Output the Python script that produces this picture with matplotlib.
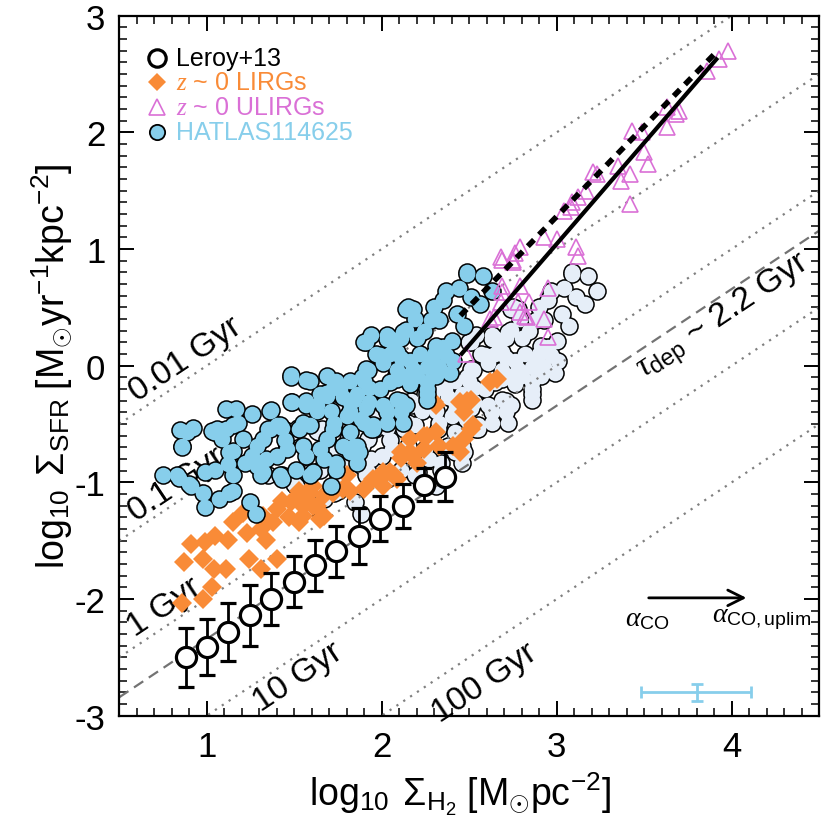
import matplotlib.pyplot as plt
import numpy as np

plt.rcParams['font.family'] = ['Liberation Sans', 'DejaVu Sans']
plt.rcParams['mathtext.fontset'] = 'custom'
plt.rcParams['mathtext.rm'] = 'Liberation Sans'
plt.rcParams['mathtext.sf'] = 'Liberation Sans'
plt.rcParams['mathtext.it'] = 'Liberation Serif:italic'
plt.rcParams['axes.unicode_minus'] = False

# Leroy+13 binned relation
leroy_x = [0.88, 1.00, 1.12, 1.25, 1.37, 1.50, 1.62, 1.74, 1.87, 1.99, 2.12, 2.24, 2.36]
leroy_y = [-2.50, -2.41, -2.28, -2.14, -2.00, -1.85, -1.71, -1.59, -1.46, -1.31, -1.20, -1.02, -0.95]
leroy_err = [0.25, 0.24, 0.25, 0.26, 0.22, 0.22, 0.22, 0.22, 0.24, 0.19, 0.19, 0.14, 0.21]

# z~0 LIRGs (x, y)
lirgs = np.array([
    [0.91, -1.53], [0.87, -1.68], [0.99, -1.51], [0.98, -1.66], [1.05, -1.46], [1.12, -1.49],
    [1.04, -1.74], [1.11, -1.74], [1.03, -1.90], [0.98, -2.00], [0.86, -2.03], [1.24, -1.66],
    [1.31, -1.74], [1.40, -1.66], [1.15, -1.34], [1.23, -1.43], [1.21, -1.26], [1.31, -1.40],
    [1.34, -1.49], [1.32, -1.29], [1.38, -1.34], [1.43, -1.16], [1.40, -1.23], [1.48, -1.17],
    [1.47, -1.30], [1.53, -1.34], [1.55, -1.20], [1.58, -1.10], [1.63, -1.20], [1.65, -1.31],
    [1.53, -1.07], [1.61, -1.03], [1.67, -1.11], [1.72, -1.09], [1.80, -0.94], [1.82, -1.07],
    [1.95, -0.97], [2.01, -0.91], [2.07, -0.94], [2.11, -0.79], [2.16, -0.74], [2.20, -0.83],
    [2.24, -0.71], [2.26, -0.60], [2.31, -0.57], [2.33, -0.69], [2.41, -0.69], [2.47, -0.63],
    [2.45, -0.74], [2.51, -0.54], [2.31, -0.34], [2.45, -0.31], [2.51, -0.29], [2.47, -0.40],
    [2.16, -0.63], [2.01, -1.03], [1.90, -1.06], [2.62, -0.14], [2.66, -0.11], [2.30, -0.31],
    [2.49, -0.30], [2.52, -0.51], [2.24, -0.60], [2.11, -0.74], [2.18, -0.77], [2.05, -0.91],
    [1.99, -0.97], [2.09, -0.97], [1.78, -1.06], [1.59, -1.09], [1.61, -1.20], [1.67, -1.29],
    [1.55, -1.29],
])

# z~0 ULIRGs (x, y)
ulirgs = np.array([
    [3.98, 2.70], [3.93, 2.63], [3.86, 2.53], [3.63, 2.22], [3.70, 2.18], [3.68, 2.16],
    [3.63, 2.05], [3.43, 2.01], [3.49, 2.00], [3.50, 1.83], [3.52, 1.73], [3.35, 1.71],
    [3.37, 1.58], [3.42, 1.64], [3.21, 1.66], [3.23, 1.64], [3.17, 1.50], [3.12, 1.45],
    [3.09, 1.40], [3.08, 1.36], [3.04, 1.33], [3.42, 1.39], [2.93, 1.10], [3.00, 1.09],
    [3.11, 1.02], [3.12, 0.94], [2.79, 1.02], [2.76, 0.97], [2.75, 0.91], [2.69, 0.91],
    [2.68, 0.93], [2.75, 0.89], [2.69, 0.68], [2.79, 0.68], [2.68, 0.55], [2.78, 0.55],
    [2.84, 0.55], [2.82, 0.43], [2.95, 0.67], [2.93, 0.40], [2.62, 0.40], [2.69, 0.63],
    [2.83, 0.42], [2.95, 0.25], [2.48, 0.10], [2.64, 0.42], [2.79, 0.46],
])

# HATLAS114625 pixels (x, y)
hatlas = np.array([
    [1.48, -0.08], [1.57, -0.12], [1.49, -0.31], [1.57, -0.34], [0.85, -0.55], [0.92, -0.53],
    [0.86, -0.69], [1.03, -0.56], [1.17, -0.37], [1.26, -0.41], [1.37, -0.38], [0.75, -0.94],
    [0.84, -0.96], [0.91, -1.03], [0.99, -0.91], [0.99, -1.21], [1.07, -1.14], [1.13, -1.09],
    [1.15, -0.94], [1.13, -0.74], [1.09, -0.63], [1.15, -0.51], [1.21, -0.63], [1.22, -0.83],
    [1.26, -0.77], [1.25, -1.17], [1.28, -1.27], [1.32, -0.63], [1.36, -0.54], [1.31, -0.94],
    [1.42, -0.94], [1.46, -0.71], [1.51, -0.89], [1.53, -0.54], [1.34, -0.80], [1.42, -0.51],
    [1.57, -0.77], [1.59, -0.94], [0.90, -1.01], [0.98, -1.09], [1.05, -0.89], [1.12, -0.84],
    [1.15, -1.07], [1.04, -0.57], [1.11, -0.54], [1.18, -0.49], [1.11, -0.37], [1.15, -0.73],
    [1.29, -0.69], [1.29, -0.86], [1.36, -0.39], [1.35, -0.54], [1.32, -0.91], [1.43, -0.97],
    [1.40, -0.77], [1.45, -0.64], [1.43, -0.53], [1.48, -0.31], [1.48, -0.10], [1.61, -0.91],
    [1.55, -0.69], [1.59, -0.51], [1.63, -0.34], [1.68, -0.23], [1.69, -0.63], [1.67, -0.80],
    [1.71, -1.03], [1.74, -0.89], [1.78, -0.69], [1.73, -0.49], [1.82, -0.31], [1.74, -0.13],
    [1.87, -0.74], [1.86, -0.83], [1.82, -0.57], [1.90, -0.49], [1.94, -0.54], [1.90, -0.13],
    [1.93, -0.31], [2.03, -0.40], [2.09, -0.29], [2.14, -0.34], [1.99, -0.20], [2.09, -0.11],
    [2.20, -0.09], [2.26, -0.14], [2.26, -0.29], [2.31, -0.09], [2.39, -0.06], [2.49, 0.79],
    [2.58, 0.77], [2.63, 0.64], [2.56, 0.53], [2.51, 0.59], [2.44, 0.67], [2.37, 0.64],
    [2.35, 0.56], [2.30, 0.50], [2.28, 0.39], [2.33, 0.39], [2.43, 0.44], [2.47, 0.34],
    [2.15, 0.50], [2.19, 0.40], [2.24, 0.30], [2.20, 0.24], [2.11, 0.24], [2.05, 0.24],
    [1.94, 0.26], [1.91, 0.20], [1.97, 0.10], [2.05, 0.10], [2.11, 0.07], [2.16, 0.04],
    [2.22, 0.10], [2.30, 0.10], [2.35, 0.16], [2.40, 0.21], [2.41, 0.04], [2.33, -0.01],
    [2.26, -0.01], [2.18, -0.03], [2.09, -0.04], [2.01, 0.02], [1.92, -0.04], [1.89, -0.10],
    [1.82, -0.13], [1.69, -0.09], [1.59, -0.13], [1.65, -0.24], [1.72, -0.19], [1.78, -0.27],
    [1.86, -0.24], [1.93, -0.19], [2.16, -0.16], [2.26, -0.24], [1.57, -0.30], [1.63, -0.39],
    [1.71, -0.39], [1.82, -0.39], [1.91, -0.36], [2.03, -0.39], [2.11, -0.30], [1.82, -0.74],
    [1.86, -0.69], [1.88, -0.46], [1.95, -0.51], [2.03, -0.49], [1.72, -0.54], [1.65, -0.71],
    [1.74, -0.83], [1.80, -0.43], [2.11, -0.40], [2.14, 0.49], [1.90, 0.20], [2.03, 0.26],
    [2.12, 0.29], [2.09, 0.12], [1.99, 0.09], [1.91, -0.03], [1.76, -0.20], [1.69, -0.26],
    [1.84, -0.29], [2.05, -0.14], [2.14, -0.09], [2.01, -0.34], [1.95, -0.54], [1.84, -0.69],
    [2.12, -0.49], [1.55, -0.49], [1.40, -0.51], [1.06, -0.54], [0.89, -0.57], [0.86, -0.70],
    [0.83, -0.94], [2.49, 0.80], [2.18, 0.49], [2.03, 0.23], [2.14, 0.31], [2.31, 0.17],
    [2.37, 0.09], [2.28, 0.06], [2.07, 0.14], [2.26, -0.20],
])
aco_shift = 0.6  # alpha_CO -> alpha_CO,uplim

# fits
fit_x = [2.45, 3.92]
fit_solid_y = [0.09, 2.64]
fit_dash_y = [0.43, 2.70]

t_dep = [0.01, 0.1, 1, 10, 100]
t_labels = ['0.01 Gyr', '0.1 Gyr', '1 Gyr', '10 Gyr', '100 Gyr']
t_label_pos = [(0.88, 0.06), (0.83, -1.01), (0.76, -2.06), (1.52, -2.66), (2.59, -2.71)]

SKY = '#87CEEB'
PALE = '#E6EEF8'
ORANGE = '#F98B37'
ORCHID = '#DA70D6'

fig = plt.figure(figsize=(8.3, 8.29), dpi=100)
ax = fig.add_axes([119.2 / 830, 1 - 716.7 / 829, 700 / 830, 700 / 829])
ax.set_xlim(0.5, 4.5)
ax.set_ylim(-3, 3)

xl = np.array([0.5, 4.5])
for t in t_dep:
    ax.plot(xl, xl - 3 - np.log10(t), ls=(0, (1, 2.7)), color='0.5', lw=1.6, zorder=2)
ax.plot(xl, xl - 3 - np.log10(2.2), ls=(0, (5, 3)), color='0.45', lw=1.6, zorder=2)

ang = np.degrees(np.arctan(116.7 / 175))
for lab, (tx, ty) in zip(t_labels, t_label_pos):
    ax.text(tx, ty, lab, fontsize=24, rotation=ang, ha='center', va='center',
            rotation_mode='anchor', zorder=2)
ax.text(3.95, 0.43, r'$\tau_{\rm dep}$ ~ 2.2 Gyr', fontsize=24, rotation=ang,
        ha='center', va='center', rotation_mode='anchor', zorder=2)

# pale copy with alpha_CO upper limit
ax.plot(hatlas[:, 0] + aco_shift, hatlas[:, 1], 'o', ms=13.4, color='k', mew=0, zorder=1)
ax.plot(hatlas[:, 0] + aco_shift, hatlas[:, 1], 'o', ms=11.2, color=PALE, mew=0, zorder=1.1)

ax.plot(lirgs[:, 0], lirgs[:, 1], 'D', ms=10, color=ORANGE, mew=0, zorder=3)

ax.plot(hatlas[:, 0], hatlas[:, 1], 'o', ms=13.4, color='k', mew=0, zorder=4)
ax.plot(hatlas[:, 0], hatlas[:, 1], 'o', ms=11.2, color=SKY, mew=0, zorder=4.1)

ax.plot(ulirgs[:, 0], ulirgs[:, 1], '^', ms=12, mfc='none', mec=ORCHID, mew=1.2, zorder=5)

ax.errorbar(leroy_x, leroy_y, yerr=leroy_err, fmt='o', ms=14.5, mfc='white', mec='k',
            mew=2.3, ecolor='k', elinewidth=2, capsize=6, capthick=2, zorder=6)

ax.plot(fit_x, fit_solid_y, color='k', lw=3, zorder=7, solid_capstyle='butt')
ax.plot(fit_x, fit_dash_y, color='k', lw=4, ls=(0, (1.6, 1.3)), zorder=7)

# alpha_CO arrow and typical error
ax.annotate('', xy=(4.10, -1.99), xytext=(3.51, -1.99),
            arrowprops=dict(arrowstyle='->', lw=2, color='k', mutation_scale=28))
ax.text(3.52, -2.16, r'$\alpha_{\rm CO}$', fontsize=20, ha='center', va='center')
ax.text(4.17, -2.16, r'$\alpha_{\rm CO,uplim}$', fontsize=20, ha='center', va='center')
ax.errorbar([3.80], [-2.80], xerr=[[0.32], [0.31]], yerr=0.075, fmt='none',
            ecolor=SKY, elinewidth=2, capsize=4.5, capthick=2)

# legend
leg_y = [0.939, 0.905, 0.869, 0.834]
leg_txt = ['Leroy+13', r'$z$ ~ 0 LIRGs', r'$z$ ~ 0 ULIRGs', 'HATLAS114625']
leg_col = ['k', ORANGE, ORCHID, SKY]
leg_mk = [dict(marker='o', ms=12.5, mfc='none', mec='k', mew=2.3),
          dict(marker='D', ms=9, mfc=ORANGE, mec=ORANGE, mew=0),
          dict(marker='^', ms=12, mfc='none', mec=ORCHID, mew=1.2),
          dict(marker='o', ms=11, mfc=SKY, mec='k', mew=1.3)]
for yy, tt, cc, mk in zip(leg_y, leg_txt, leg_col, leg_mk):
    ax.plot([0.054], [yy], transform=ax.transAxes, ls='none', zorder=8, **mk)
    ax.text(0.081, yy, tt, color=cc, fontsize=18, transform=ax.transAxes,
            va='center', ha='left', zorder=8)

ax.set_xticks([1, 2, 3, 4])
ax.set_yticks([-3, -2, -1, 0, 1, 2, 3])
ax.set_xticks(np.arange(0.5, 4.51, 0.1), minor=True)
ax.set_yticks(np.arange(-3, 3.01, 0.1), minor=True)
ax.tick_params(which='both', direction='in', top=True, right=True, labelsize=25, pad=10)
ax.tick_params(which='major', length=11, width=1.4)
ax.tick_params(which='minor', length=5.5, width=1.1)
for s in ax.spines.values():
    s.set_linewidth(1.6)

ax.set_xlabel(r'$\log_{10}\ \Sigma_{\rm H_2}\ [\rm M_{\odot}pc^{-2}]$', fontsize=27)
ax.set_ylabel(r'$\log_{10}\ \Sigma_{\rm SFR}\ [\rm M_{\odot}yr^{-1}kpc^{-2}]$', fontsize=27)
ax.xaxis.set_label_coords(0.487, -0.077)
ax.yaxis.set_label_coords(-0.065, 0.5)

fig.savefig('out.png', dpi=100)
